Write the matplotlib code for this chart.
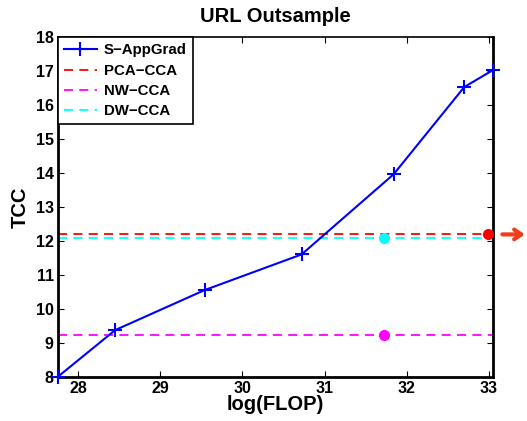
import numpy as np
import matplotlib
matplotlib.use("Agg")
from matplotlib import pyplot as plt

# S-AppGrad curve
flop = [27.75, 28.45, 29.54, 30.72, 31.84, 32.70, 33.05]
tcc = [8.0, 9.38, 10.56, 11.61, 13.97, 16.54, 17.04]

# baselines (horizontal lines) and their marker positions
baseline_names = ["PCA-CCA", "NW-CCA", "DW-CCA"]
baseline_tcc = [12.2, 9.25, 12.1]
baseline_colors = ["red", "magenta", "cyan"]
baseline_dot_x = [32.99, 31.72, 31.72]

xticks = [28, 29, 30, 31, 32, 33]
yticks = list(range(8, 19))

plt.rcParams['font.family'] = ['Liberation Sans', 'DejaVu Sans']
plt.rcParams['font.weight'] = 'bold'

fig = plt.figure(figsize=(5.27, 4.21), dpi=100)
ax = fig.add_axes([0.110, 0.1045, 0.8255, 0.8065])

ax.plot(flop, tcc, color='blue', marker='+', markersize=10, markeredgewidth=1.5,
        linewidth=1.5, label='S\u2212AppGrad', clip_on=False, zorder=3)
for name, val, col in zip(baseline_names, baseline_tcc, baseline_colors):
    ax.axhline(val, color=col, linestyle=(0, (5, 3.5)), linewidth=1.3,
               label=name.replace('-', '\u2212'))
for val, col, dx in zip(baseline_tcc, baseline_colors, baseline_dot_x):
    ax.plot([dx], [val], 'o', color=col, markersize=7, clip_on=False, zorder=4)

ax.annotate('', xy=(33.47, 12.2), xytext=(33.13, 12.2),
            arrowprops=dict(arrowstyle='->,head_length=0.5,head_width=0.35',
                            lw=3, color='#f23c1c'),
            annotation_clip=False)

ax.set_xlim(27.755, 33.05)
ax.set_ylim(8, 18)
ax.set_xticks(xticks)
ax.set_yticks(yticks)
ax.tick_params(direction='in', length=4, width=0.8, top=True, right=True,
               labelsize=11.5, pad=3)
for lab in ax.get_xticklabels() + ax.get_yticklabels():
    lab.set_fontweight('bold')
for side in ['left', 'bottom', 'right']:
    ax.spines[side].set_linewidth(2)
ax.spines['top'].set_linewidth(1.2)

ax.set_title('URL Outsample', fontsize=14.5, fontweight='bold', pad=11)
ax.set_xlabel('log(FLOP)', fontsize=14.5, fontweight='bold', labelpad=-1)
ax.set_ylabel('TCC', fontsize=14.5, fontweight='bold', labelpad=4)

leg = ax.legend(loc='upper left', borderaxespad=0, fancybox=False,
                edgecolor='black', framealpha=1, prop={'size': 10.8, 'weight': 'bold'},
                handlelength=2.2, borderpad=0.4, labelspacing=0.42, handletextpad=0.45)
leg.get_frame().set_linewidth(1.2)

fig.savefig('out.png', dpi=100)
